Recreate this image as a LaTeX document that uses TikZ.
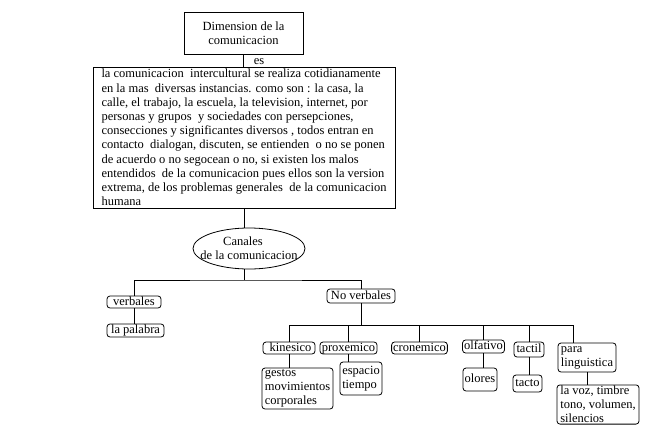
\documentclass[tikz,border=0pt]{standalone}
\usepackage{fontspec}
\setmainfont{Liberation Serif}
\usetikzlibrary{shapes.geometric,calc}
\begin{document}
\begin{tikzpicture}[x=1pt,y=-1pt,
  every node/.style={font=\fontsize{12.5}{14.2}\selectfont, inner sep=0pt},
  sq/.style={draw, line width=0.8pt},
  rb/.style={draw, rounded corners=3pt, line width=0.8pt, align=center,
    text height=8.7pt, text depth=2.5pt, inner ysep=0.4pt, inner xsep=1.5pt},
  rbm/.style={draw, rounded corners=3pt, line width=0.8pt, align=left, inner xsep=1.5pt, inner ysep=1pt},
  ln/.style={line width=0.8pt}]
\useasboundingbox (0,0) rectangle (660,441);
% top
\node[sq, minimum width=119pt, minimum height=42pt, align=center] (top) at (243.5,33) {Dimension de la\\comunicacion};
\node[sq, minimum width=302pt, minimum height=141pt, align=left] (big) at (244,137.5) {%
la comunicacion\ \ intercultural se realiza cotidianamente\\
en la mas\ \ diversas instancias. como son : la casa, la\\
calle, el trabajo, la escuela, la television, internet, por\\
personas y grupos\ \ y sociedades con persepciones,\\
consecciones y significantes diversos , todos entran en\\
contacto\ \ dialogan, discuten, se entienden\ \ o no se ponen\\
de acuerdo o no segocean o no, si existen los malos\\
entendidos\ \ de la comunicacion pues ellos son la version\\
extrema, de los problemas generales\ \ de la comunicacion\\
humana};
\node (es) at (259,61.5) {es};
\node[draw, ellipse, line width=0.8pt, minimum width=112pt, minimum height=41pt,
  inner xsep=-17pt, inner ysep=1pt, align=center] (ell) at (249,248.5) {Canales\hspace*{12pt}\\de la comunicacion};
% level 2
\node[rb, minimum width=54pt, minimum height=12pt] (verb) at (134,302) {verbales};
\node[rb, minimum width=57pt, minimum height=13pt] (pal) at (135.5,330.5) {la palabra};
\node[rb, minimum width=68pt, minimum height=14pt] (nov) at (361,296) {No verbales};
% level 3
\node[rb, minimum width=52pt, minimum height=12pt] (kin) at (289,348) {\ kinesico};
\node[rb, minimum width=57pt, minimum height=12pt] (prox) at (348.5,348) {proxemico};
\node[rb, minimum width=55pt, minimum height=12pt] (cron) at (419.5,348) {cronemico};
\node[rb, minimum width=41pt, minimum height=13pt] (olf) at (483.5,346.5) {olfativo};
\node[rb, minimum width=30pt, minimum height=15pt] (tac) at (529,349.5) {tactil};
\node[rbm, minimum width=58pt, minimum height=29pt] (para) at (587,357.5) {para\\linguistica};
% level 4
\node[rbm, minimum width=71pt, minimum height=41pt] (ges) at (297.5,388.5) {gestos\\movimientos\\corporales};
\node[rbm, minimum width=42pt, minimum height=33pt] (esp) at (361,378.5) {espacio\\tiempo};
\node[rb, minimum width=34pt, minimum height=23pt] (olo) at (480,379.5) {olores};
\node[rb, minimum width=29pt, minimum height=17pt] (tacto) at (527.5,383.5) {tacto};
\node[rbm, minimum width=82pt, minimum height=39pt] (voz) at (598,404.5) {la voz, timbre\\tono, volumen,\\silencios};
% connectors
\draw[ln] (top.south) -- (top.south |- big.north);
\draw[ln] (big.south) -- (big.south |- ell.north);
\coordinate (b1) at (244,280);
\draw[ln] (b1 |- ell.south) -- (b1);
\draw[ln] (verb.north) |- (b1) -| (nov.north);
\draw[ln] (verb.south) -- (verb.south |- pal.north);
\coordinate (b2) at (360,325);
\coordinate (b3) at (573,325);
\draw[ln] (nov.south) -- (nov.south |- b2);
\draw[ln] (kin.north) |- (b3) -- (b3 |- para.north);
\draw[ln] (prox.north) -- (prox.north |- b2);
\draw[ln] (cron.north) -- (cron.north |- b2);
\draw[ln] (olf.north) -- (olf.north |- b2);
\draw[ln] (tac.north) -- (tac.north |- b2);
\draw[ln] (kin.south) -- (kin.south |- ges.north);
\draw[ln] (prox.south) -- (prox.south |- esp.north);
\draw[ln] (olf.south) -- (olf.south |- olo.north);
\draw[ln] (tac.south) -- (tac.south |- tacto.north);
\draw[ln] (para.south) -- (para.south |- voz.north);
\end{tikzpicture}
\end{document}
